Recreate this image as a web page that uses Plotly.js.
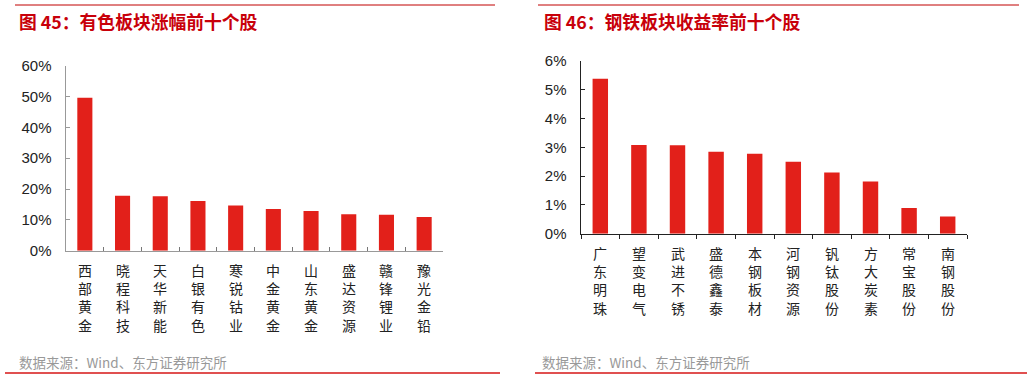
<!DOCTYPE html>
<html>
<head>
<meta charset="utf-8">
<script src="https://cdn.plot.ly/plotly-3.0.1.min.js"></script>
<style>
html,body{margin:0;padding:0;background:#fff;}
#chart{width:1032px;height:380px;}
</style>
</head>
<body>
<div id="chart"></div>
<script>
const title1 = '图 45：有色板块涨幅前十个股';
const title2 = '图 46：钢铁板块收益率前十个股';
const source = '数据来源：Wind、东方证券研究所';
const cats1 = ['西部黄金','晓程科技','天华新能','白银有色','寒锐钴业','中金黄金','山东黄金','盛达资源','赣锋锂业','豫光金铅'];
const vals1 = [49.6,17.8,17.7,16.1,14.7,13.5,12.9,11.8,11.7,10.9];
const cats2 = ['广东明珠','望变电气','武进不锈','盛德鑫泰','本钢板材','河钢资源','钒钛股份','方大炭素','常宝股份','南钢股份'];
const vals2 = [5.38,3.08,3.07,2.85,2.78,2.50,2.13,1.81,0.89,0.60];

const W = 1032, H = 380;
const px = v => v / W;
const py = v => (H - v) / H;
const RED = '#E2201A';
const CJK = '"Noto Sans CJK SC", "Noto Sans", sans-serif';
const LAT = '"Liberation Sans", Arial, sans-serif';

const traces = [
  {type:'bar', x:cats1, y:vals1, xaxis:'x', yaxis:'y', marker:{color:RED}, hoverinfo:'none'},
  {type:'bar', x:cats2, y:vals2, xaxis:'x2', yaxis:'y2', marker:{color:RED}, hoverinfo:'none'}
];

const annotations = [];
function addVertLabels(cats, xref, topPx) {
  cats.forEach(c => {
    annotations.push({
      xref: xref, yref: 'paper', x: c, y: py(topPx),
      yanchor: 'top', xanchor: 'center', showarrow: false,
      text: Array.from(c).join('<br>'), font: {family: CJK, size: 14, color: '#222'}, borderpad: 0
    });
  });
}
addVertLabels(cats1, 'x', 259);
addVertLabels(cats2, 'x2', 242);

annotations.push({xref:'paper', yref:'paper', x:px(17), y:py(21), xanchor:'left', yanchor:'middle', showarrow:false,
  text:'<b>'+title1+'</b>', font:{family:CJK, size:17.8, color:'#C8000A'}});
annotations.push({xref:'paper', yref:'paper', x:px(542), y:py(21), xanchor:'left', yanchor:'middle', showarrow:false,
  text:'<b>'+title2+'</b>', font:{family:CJK, size:17.8, color:'#C8000A'}});
annotations.push({xref:'paper', yref:'paper', x:px(17), y:py(362), xanchor:'left', yanchor:'middle', showarrow:false,
  text:source, font:{family:CJK, size:13.5, color:'#999'}});
annotations.push({xref:'paper', yref:'paper', x:px(540), y:py(362), xanchor:'left', yanchor:'middle', showarrow:false,
  text:source, font:{family:CJK, size:13.5, color:'#999'}});

const shapes = [
  {type:'line', xref:'paper', yref:'paper', x0:px(15), x1:px(495), y0:py(5), y1:py(5), line:{color:'#C00000', width:1}},
  {type:'line', xref:'paper', yref:'paper', x0:px(538), x1:px(1019), y0:py(5), y1:py(5), line:{color:'#C00000', width:1}},
  {type:'line', xref:'paper', yref:'paper', x0:px(5), x1:px(500), y0:py(373), y1:py(373), line:{color:'#E05050', width:2}},
  {type:'line', xref:'paper', yref:'paper', x0:px(535), x1:px(1027), y0:py(373), y1:py(373), line:{color:'#E05050', width:2}}
];

const layout = {
  width: W, height: H,
  margin: {l:0, r:0, t:0, b:0},
  paper_bgcolor: '#fff', plot_bgcolor: '#fff',
  showlegend: false,
  bargap: 0.6,
  font: {family: LAT, color:'#222'},
  xaxis: {domain:[px(66), px(443)], type:'category', showticklabels:false, showline:true, linecolor:'#999', linewidth:1.5,
    ticks:'inside', tickson:'boundaries', ticklen:4, tickcolor:'#777', showgrid:false, zeroline:false, fixedrange:true},
  yaxis: {domain:[py(250.7), py(65.7)], range:[0,60], dtick:10, ticksuffix:'%', showline:true, linecolor:'#999', linewidth:1.5,
    ticks:'inside', ticklen:4, tickcolor:'#999', showgrid:false, zeroline:false, ticklabelstandoff:10,
    tickfont:{family:LAT, size:15, color:'#222'}, fixedrange:true},
  xaxis2: {domain:[px(581), px(967)], type:'category', anchor:'y2', showticklabels:false, showline:true, linecolor:'#222', linewidth:1.5,
    ticks:'outside', tickson:'boundaries', ticklen:4, tickcolor:'#222', showgrid:false, zeroline:false, fixedrange:true},
  yaxis2: {domain:[py(233.7), py(61)], anchor:'x2', range:[0,6], dtick:1, ticksuffix:'%', showline:true, linecolor:'#222', linewidth:1.5,
    ticks:'inside', ticklen:4, tickcolor:'#222', showgrid:false, zeroline:false, ticklabelstandoff:10,
    tickfont:{family:LAT, size:15, color:'#222'}, fixedrange:true},
  annotations: annotations,
  shapes: shapes
};

Plotly.newPlot('chart', traces, layout, {staticPlot:true, displayModeBar:false});
</script>
</body>
</html>
